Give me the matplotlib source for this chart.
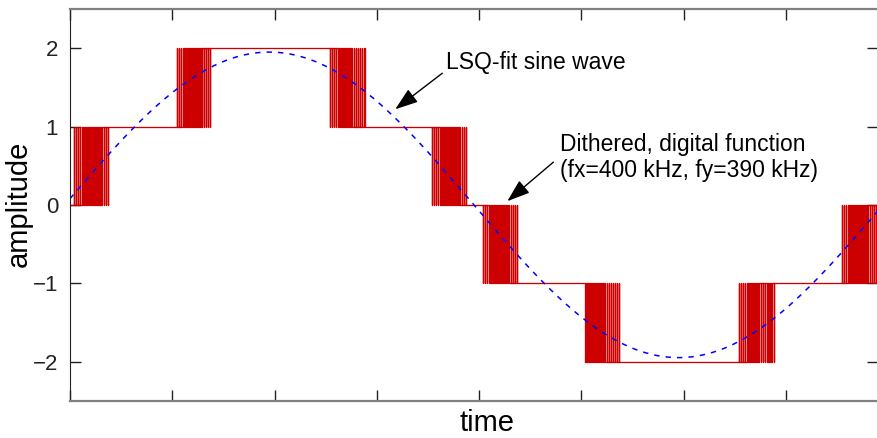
import numpy as np
import matplotlib.pyplot as plt

plt.rcParams['font.family'] = ['Liberation Sans', 'DejaVu Sans']

# dithered digital function: zones where it toggles between two levels
zone_start = [0.02, 1.03, 2.52, 3.52, 4.02, 5.02, 6.52, 7.53]
zone_end = [0.39, 1.39, 2.90, 3.89, 4.39, 5.39, 6.90, 7.90]
level_from = [0, 1, 2, 1, 0, -1, -2, -1]
level_to = [1, 2, 1, 0, -1, -2, -1, 0]
pulses_per_zone = 18

# LSQ-fit sine wave
sine_amp = 1.95
sine_period = 8.0
sine_phase = 0.04

x_max = 7.9
x_ticks = [0, 1, 2, 3, 4, 5, 6, 7]
y_ticks = [-2, -1, 0, 1, 2]

# build the step signal: duty cycle of the new level grows across each zone
xs = [0.0]
ys = [level_from[0]]
for x0, x1, a, b in zip(zone_start, zone_end, level_from, level_to):
    p = (x1 - x0) / pulses_per_zone
    for k in range(pulses_per_zone):
        d = (k + 0.5) / pulses_per_zone
        t0 = x0 + k * p
        xs += [t0, t0 + (1 - d) * p]
        ys += [a, b]
    xs.append(x1)
    ys.append(b)
xs.append(x_max)
ys.append(level_to[-1])

t = np.linspace(0, x_max, 800)
fit = sine_amp * np.sin(2 * np.pi * t / sine_period + sine_phase)

fig = plt.figure(figsize=(8.78, 4.38), dpi=100)
ax = fig.add_axes([70 / 878, 1 - 400.7 / 438, 808 / 878, 391.7 / 438])

ax.plot(xs, ys, drawstyle='steps-post', color='#cc0000', lw=0.95)
ax.plot(t, fit, color='#0000ff', lw=1.1, linestyle=(0, (3.5, 4)))

ax.set_xlim(0, x_max)
ax.set_ylim(-2.5, 2.5)
ax.set_xticks(x_ticks)
ax.set_xticklabels([])
ax.set_yticks(y_ticks)
ax.set_yticklabels([str(v).replace('-', '\u2212') for v in y_ticks])
ax.tick_params(direction='in', length=8, width=1, top=True, right=True,
               labelsize=16, pad=8.5, colors='#222222')

for side in ['top', 'bottom']:
    ax.spines[side].set_color('#808080')
    ax.spines[side].set_linewidth(1.6)
ax.spines['left'].set_color('#222222')
ax.spines['right'].set_color('#808080')

ax.set_xlabel('time', fontsize=21)
ax.set_ylabel('amplitude', fontsize=21)
ax.xaxis.set_label_coords(0.516, -0.02)
ax.yaxis.set_label_coords(-0.046, 0.502)

arrow = dict(arrowstyle='-|>,head_length=1.0,head_width=0.35',
             color='black', lw=1.0, mutation_scale=14, shrinkA=0, shrinkB=0)

ax.text(3.68, 1.966, 'LSQ-fit sine wave', fontsize=16.5, va='top', ha='left')
ax.annotate('', xy=(3.18, 1.22), xytext=(3.64, 1.68), arrowprops=arrow)

ax.text(4.79, 0.923, 'Dithered, digital function\n(fx=400 kHz, fy=390 kHz)',
        fontsize=16.5, va='top', ha='left', linespacing=1.2)
ax.annotate('', xy=(4.276, 0.047), xytext=(4.726, 0.545), arrowprops=arrow)

fig.savefig('out.png', dpi=100)
